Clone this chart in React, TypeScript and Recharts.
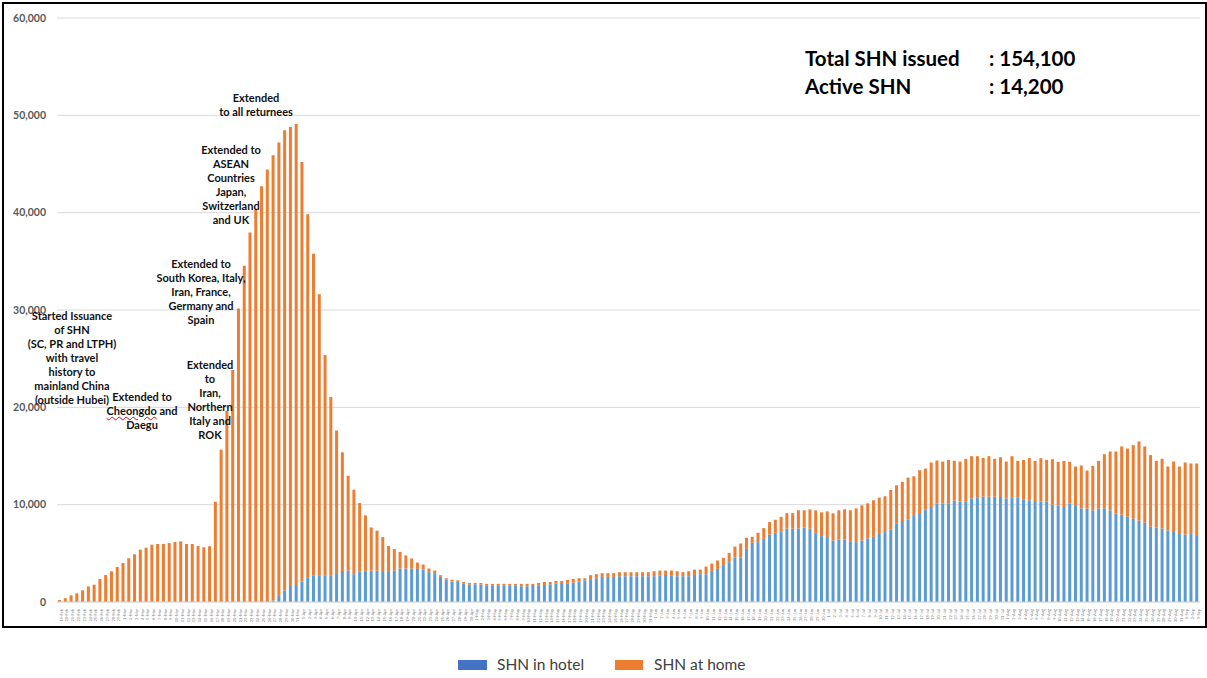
import React from 'react'
import { BarChart, Bar, XAxis, YAxis, CartesianGrid } from 'recharts'

// daily dates, 19 Feb to 3 Sep 2020
const dates = [
  '19-Feb', '20-Feb', '21-Feb', '22-Feb', '23-Feb', '24-Feb', '25-Feb', '26-Feb', '27-Feb', '28-Feb', '29-Feb',
  '1-Mar', '2-Mar', '3-Mar', '4-Mar', '5-Mar', '6-Mar', '7-Mar', '8-Mar', '9-Mar', '10-Mar', '11-Mar', '12-Mar', '13-Mar', '14-Mar', '15-Mar', '16-Mar', '17-Mar', '18-Mar', '19-Mar', '20-Mar', '21-Mar', '22-Mar', '23-Mar', '24-Mar', '25-Mar', '26-Mar', '27-Mar', '28-Mar', '29-Mar', '30-Mar', '31-Mar',
  '1-Apr', '2-Apr', '3-Apr', '4-Apr', '5-Apr', '6-Apr', '7-Apr', '8-Apr', '9-Apr', '10-Apr', '11-Apr', '12-Apr', '13-Apr', '14-Apr', '15-Apr', '16-Apr', '17-Apr', '18-Apr', '19-Apr', '20-Apr', '21-Apr', '22-Apr', '23-Apr', '24-Apr', '25-Apr', '26-Apr', '27-Apr', '28-Apr', '29-Apr', '30-Apr',
  '1-May', '2-May', '3-May', '4-May', '5-May', '6-May', '7-May', '8-May', '9-May', '10-May', '11-May', '12-May', '13-May', '14-May', '15-May', '16-May', '17-May', '18-May', '19-May', '20-May', '21-May', '22-May', '23-May', '24-May', '25-May', '26-May', '27-May', '28-May', '29-May', '30-May', '31-May',
  '1-Jun', '2-Jun', '3-Jun', '4-Jun', '5-Jun', '6-Jun', '7-Jun', '8-Jun', '9-Jun', '10-Jun', '11-Jun', '12-Jun', '13-Jun', '14-Jun', '15-Jun', '16-Jun', '17-Jun', '18-Jun', '19-Jun', '20-Jun', '21-Jun', '22-Jun', '23-Jun', '24-Jun', '25-Jun', '26-Jun', '27-Jun', '28-Jun', '29-Jun', '30-Jun',
  '1-Jul', '2-Jul', '3-Jul', '4-Jul', '5-Jul', '6-Jul', '7-Jul', '8-Jul', '9-Jul', '10-Jul', '11-Jul', '12-Jul', '13-Jul', '14-Jul', '15-Jul', '16-Jul', '17-Jul', '18-Jul', '19-Jul', '20-Jul', '21-Jul', '22-Jul', '23-Jul', '24-Jul', '25-Jul', '26-Jul', '27-Jul', '28-Jul', '29-Jul', '30-Jul', '31-Jul',
  '1-Aug', '2-Aug', '3-Aug', '4-Aug', '5-Aug', '6-Aug', '7-Aug', '8-Aug', '9-Aug', '10-Aug', '11-Aug', '12-Aug', '13-Aug', '14-Aug', '15-Aug', '16-Aug', '17-Aug', '18-Aug', '19-Aug', '20-Aug', '21-Aug', '22-Aug', '23-Aug', '24-Aug', '25-Aug', '26-Aug', '27-Aug', '28-Aug', '29-Aug', '30-Aug', '31-Aug',
  '1-Sep', '2-Sep', '3-Sep',
]

const shnHotel = [
  0, 0, 0, 0, 0, 0, 0, 0, 0, 0,
  0, 0, 0, 0, 0, 0, 0, 0, 0, 0,
  0, 0, 0, 0, 0, 0, 0, 0, 0, 0,
  0, 0, 0, 0, 0, 0, 0, 150, 700, 1200,
  1650, 1750, 2100, 2500, 2700, 2750, 2750, 2750, 2970, 3190,
  3220, 2860, 3110, 3220, 3220, 3220, 3080, 3170, 3240, 3440,
  3440, 3440, 3400, 3330, 3060, 2960, 2580, 2300, 2100, 2060,
  1890, 1790, 1820, 1790, 1720, 1720, 1720, 1720, 1720, 1720,
  1620, 1620, 1750, 1720, 1750, 1820, 1890, 1960, 1920, 1990,
  2130, 2230, 2270, 2440, 2580, 2580, 2580, 2650, 2650, 2650,
  2650, 2650, 2650, 2650, 2710, 2780, 2750, 2650, 2650, 2650,
  2780, 2850, 2850, 3200, 3400, 3810, 4090, 4570, 4570, 5460,
  6080, 6150, 6490, 6910, 7110, 7270, 7530, 7530, 7550, 7660,
  7530, 7110, 6770, 6670, 6320, 6430, 6430, 6250, 6150, 6320,
  6530, 6700, 7080, 7180, 7460, 8040, 8320, 8450, 8830, 9040,
  9520, 9760, 10100, 10100, 10140, 10410, 10310, 10340, 10650, 10760,
  10820, 10820, 10820, 10790, 10650, 10760, 10760, 10550, 10450, 10380,
  10340, 10340, 10000, 9930, 9760, 10100, 9860, 9620, 9590, 9420,
  9620, 9620, 9420, 9110, 8970, 8760, 8560, 8350, 8140, 7730,
  7660, 7560, 7350, 7290, 7080, 6910, 6980, 6870,
]

const shnHome = [
  200, 380, 680, 890, 1200, 1600, 1780, 2360, 2770, 3150,
  3600, 4000, 4490, 4900, 5380, 5580, 5890, 5960, 5960, 6060,
  6160, 6230, 5960, 5960, 5750, 5620, 5730, 10300, 15650, 19650,
  23850, 30150, 34540, 37950, 40330, 42710, 44430, 45750, 46520, 47260,
  47140, 47370, 43100, 37350, 33090, 28860, 22630, 18310, 14650, 12190,
  9750, 8680, 7070, 5680, 4440, 4110, 3590, 2590, 2200, 1710,
  1340, 1030, 650, 520, 380, 270, 170, 140, 200, 170,
  170, 170, 140, 170, 140, 140, 140, 140, 140, 140,
  240, 240, 110, 240, 310, 240, 270, 200, 350, 380,
  310, 210, 480, 410, 380, 380, 380, 410, 410, 410,
  410, 410, 410, 510, 520, 450, 480, 510, 410, 510,
  550, 480, 790, 750, 860, 730, 960, 1130, 1440, 1140,
  620, 960, 1100, 1300, 1340, 1480, 1600, 1600, 1870, 1760,
  1990, 2310, 2440, 2640, 2790, 2990, 3090, 3170, 3470, 3610,
  3610, 3750, 3640, 3680, 4050, 3950, 4020, 4330, 4090, 4500,
  4190, 4570, 4440, 4330, 4460, 4090, 4120, 4370, 4330, 4220,
  3990, 4160, 3890, 4090, 3780, 4220, 3740, 4050, 4330, 4120,
  4440, 4260, 4670, 4470, 4740, 4300, 4060, 4400, 3920, 4570,
  4880, 5570, 6040, 6350, 7010, 7010, 7560, 8140, 7840, 7360,
  6840, 7150, 6570, 7140, 6840, 7420, 7250, 7360,
]

const yTicks = [0, 10000, 20000, 30000, 40000, 50000, 60000]

// text notes on the chart: lines, centre x, first line centre y
const notes = [
  { lines: ['Started Issuance', 'of SHN', '(SC, PR and LTPH)', 'with travel', 'history to', 'mainland China', '(outside Hubei)'], x: 72, y: 316 },
  { lines: ['Extended to', 'Cheongdo and', 'Daegu'], x: 142, y: 397 },
  { lines: ['Extended', 'to', 'Iran,', 'Northern', 'Italy and', 'ROK'], x: 210, y: 365 },
  { lines: ['Extended to', 'South Korea, Italy,', 'Iran, France,', 'Germany and', 'Spain'], x: 201, y: 264 },
  { lines: ['Extended to', 'ASEAN', 'Countries', 'Japan,', 'Switzerland', 'and UK'], x: 231, y: 150 },
  { lines: ['Extended', 'to all returnees'], x: 256, y: 98 },
]

const HOTEL = '#5B9BD5'
const HOME = '#ED7D31'
const FONT = 'Lato, "Open Sans", sans-serif'

const data = dates.map((d, i) => ({ date: d, hotel: shnHotel[i], home: shnHome[i] }))

export default function App() {
  return (
    <div style={{ position: 'absolute', left: 0, top: 0, width: 1207, height: 678, background: '#fff', fontFamily: FONT, overflow: 'hidden' }}>
      <div style={{ position: 'absolute', left: 2, top: 2, width: 1201, height: 622, border: '2px solid #000' }} />

      <div style={{ position: 'absolute', left: 0, top: 0 }}>
        <BarChart
          width={1207}
          height={626}
          data={data}
          margin={{ top: 18, right: 7, left: 0, bottom: 0 }}
          barSize={3}
        >
          <CartesianGrid vertical={false} stroke="#d9d9d9" />
          <XAxis
            dataKey="date"
            interval={0}
            angle={-90}
            textAnchor="end"
            height={24}
            tickLine={false}
            axisLine={{ stroke: '#d9d9d9' }}
            tick={{ fontSize: 4, fill: '#808080', fontFamily: FONT }}
            tickMargin={1}
          />
          <YAxis
            domain={[0, 60000]}
            ticks={yTicks}
            width={57}
            axisLine={false}
            tickLine={false}
            tickSize={6}
            tickMargin={5}
            tick={{ fontSize: 10.5, fill: '#595959', fontFamily: FONT, fontWeight: 700 }}
            tickFormatter={(v: number) => v.toLocaleString('en-US')}
          />
          <Bar dataKey="hotel" stackId="a" fill={HOTEL} isAnimationActive={false} />
          <Bar dataKey="home" stackId="a" fill={HOME} isAnimationActive={false} />
        </BarChart>
      </div>

      {notes.map((n, i) => (
        <div
          key={i}
          style={{
            position: 'absolute',
            left: n.x - 70,
            top: n.y - 7,
            width: 140,
            textAlign: 'center',
            fontSize: 11,
            lineHeight: '14px',
            fontWeight: 700,
            color: '#111',
            whiteSpace: 'nowrap',
          }}
        >
          {n.lines.map((l, j) => (
            <div key={j}>
              {l.startsWith('Cheongdo') ? (
                <>
                  <span style={{ textDecoration: 'underline wavy #e00', textDecorationThickness: 1 }}>Cheongdo</span>
                  {l.slice(8)}
                </>
              ) : (
                l
              )}
            </div>
          ))}
        </div>
      ))}

      <div style={{ position: 'absolute', left: 805, top: 44, fontSize: 20.5, fontWeight: 700, lineHeight: '28px', color: '#000' }}>
        <div style={{ position: 'relative', width: 300 }}>
          Total SHN issued<span style={{ position: 'absolute', left: 184 }}>: 154,100</span>
        </div>
        <div style={{ position: 'relative', width: 300 }}>
          Active SHN<span style={{ position: 'absolute', left: 184 }}>: 14,200</span>
        </div>
      </div>

      <div style={{ position: 'absolute', left: 0, top: 655, width: 1207, height: 18, fontSize: 15.5, color: '#404040' }}>
        <div style={{ position: 'absolute', left: 458, top: 5, width: 29, height: 10, background: '#4472C4' }} />
        <div style={{ position: 'absolute', left: 497, top: 0, lineHeight: '18px' }}>SHN in hotel</div>
        <div style={{ position: 'absolute', left: 615, top: 5, width: 28, height: 10, background: HOME }} />
        <div style={{ position: 'absolute', left: 654, top: 0, lineHeight: '18px' }}>SHN at home</div>
      </div>
    </div>
  )
}
